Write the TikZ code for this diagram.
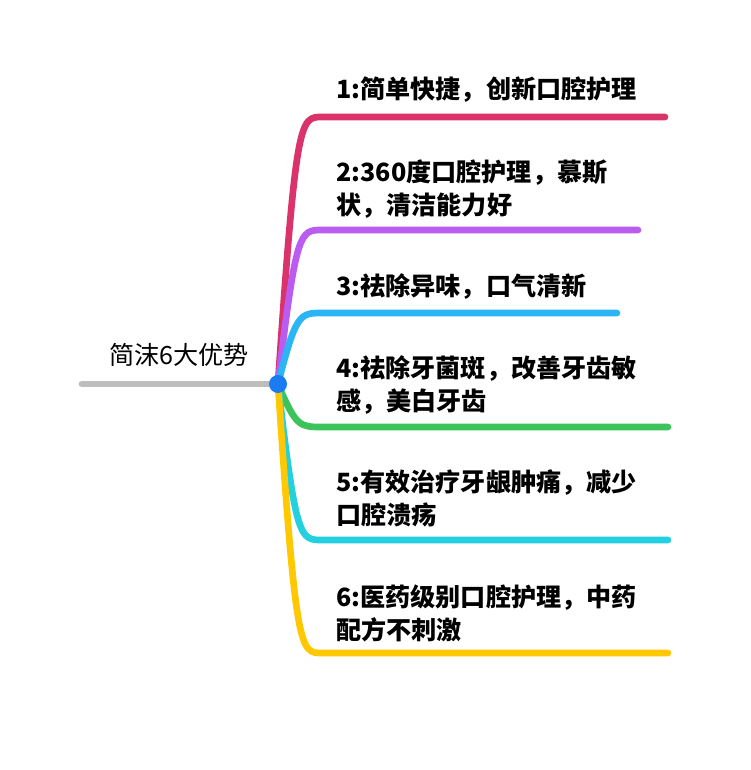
\documentclass[tikz,border=0pt]{standalone}
\usepackage{fontspec}
\newfontfamily\cjk{Noto Sans CJK SC}
\usetikzlibrary{positioning}
\definecolor{c1}{HTML}{D9336A}
\definecolor{c2}{HTML}{BB5CF0}
\definecolor{c3}{HTML}{2BB5F5}
\definecolor{c4}{HTML}{3CC45A}
\definecolor{c5}{HTML}{22D0E0}
\definecolor{c6}{HTML}{FFC800}
\definecolor{rootgray}{HTML}{BDBDBD}
\definecolor{dotblue}{HTML}{1A7CF0}
\begin{document}
\begin{tikzpicture}[x=0.02cm,y=-0.02cm,line cap=round,
                    branch/.style={line width=3.8pt},
                    label/.style={anchor=north west,align=left,inner sep=0pt,
                      font=\cjk\bfseries\fontsize{14.3pt}{19pt}\selectfont}]
\useasboundingbox (0,0) rectangle (750,770);

  % root
  \coordinate (rl) at (82,384);
  \coordinate (c) at (278,384);
  \draw[rootgray,branch] (rl) -- (c);
  \node[anchor=south west,inner sep=0pt,font=\cjk\fontsize{14.3pt}{17pt}\selectfont] (root) at (109,367) {简沫6大优势};

  % branches
  \foreach \i/\y/\e/\t/\txt in {
      1/117/665/76/{1:简单快捷，创新口腔护理},
      2/230/638/159/{2:360度口腔护理，慕斯\\状，清洁能力好},
      3/313/617/273/{3:祛除异味，口气清新},
      4/427/668/355/{4:祛除牙菌斑，改善牙齿敏\\感，美白牙齿},
      5/540/668/469/{5:有效治疗牙龈肿痛，减少\\口腔溃疡},
      6/653/668/584/{6:医药级别口腔护理，中药\\配方不刺激}}{
    \coordinate (s\i) at (322,\y);
    \coordinate (e\i) at (\e,\y);
    \draw[c\i,branch] (c) .. controls (296,\y) and (300,\y) .. (s\i) -- (e\i);
    \node[label] (t\i) at (336,\t) {\txt};
  }

  \fill[dotblue] (c) circle (9);
\end{tikzpicture}
\end{document}
